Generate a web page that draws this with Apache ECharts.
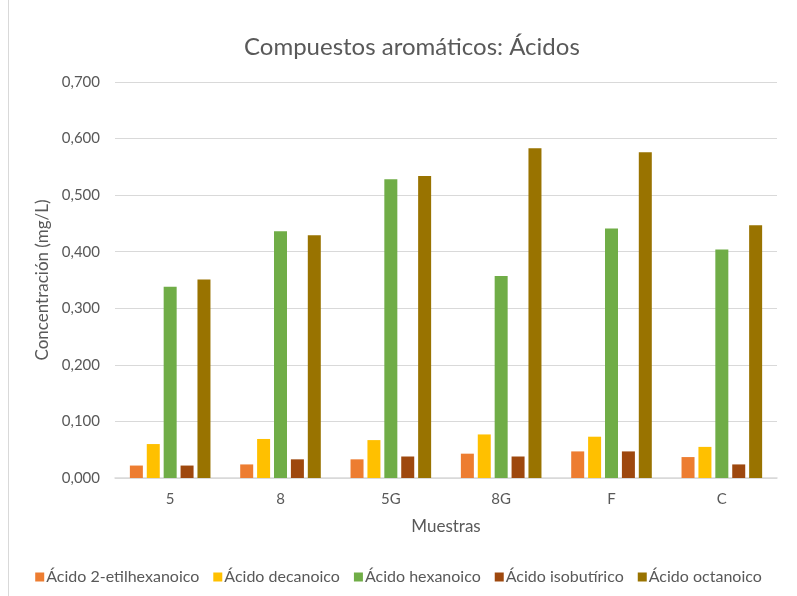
<!DOCTYPE html>
<html>
<head>
	<meta charset="utf-8">
	<title>Compuestos aromáticos: Ácidos</title>
	<script src="https://cdn.jsdelivr.net/npm/echarts@6/dist/echarts.min.js"></script>
	<style type="text/css">
		html, body { height: 100%; margin: 0; background: #fff; }
	</style>
</head>
<body>
	<div id="main" style="width: 797px;height:596px;"></div>
	<script type="text/javascript">
	// muestras
	var muestras = ['5', '8', '5G', '8G', 'F', 'C'];
	var nombres = ['Ácido 2-etilhexanoico', 'Ácido decanoico', 'Ácido hexanoico', 'Ácido isobutírico', 'Ácido octanoico'];
	var colores = ['#ED7D31', '#FFC000', '#70AD47', '#9E480E', '#997300'];

	// concentraciones (mg/L)
	var etilhexanoico = [0.022, 0.024, 0.033, 0.043, 0.047, 0.037];
	var decanoico     = [0.060, 0.069, 0.067, 0.077, 0.073, 0.055];
	var hexanoico     = [0.338, 0.436, 0.528, 0.357, 0.441, 0.404];
	var isobutirico   = [0.022, 0.033, 0.038, 0.038, 0.047, 0.024];
	var octanoico     = [0.351, 0.429, 0.534, 0.583, 0.576, 0.447];
	var datos = [etilhexanoico, decanoico, hexanoico, isobutirico, octanoico];

	var fuente = 'Lato, "Open Sans", sans-serif';
	var gris = '#595959';

	var series = [];
	for (var i = 0; i < nombres.length; i++) {
		series.push({
			name: nombres[i],
			type: 'bar',
			data: datos[i],
			barWidth: 13,
			barGap: '30%',
			itemStyle: { color: colores[i] }
		});
	}

	var myChart = echarts.init(document.getElementById('main'));
	var option = {
		animation: false,
		color: colores,
		title: {
			text: 'Compuestos aromáticos: Ácidos',
			left: 239,
			top: 30,
			textStyle: { fontFamily: fuente, fontSize: 24, fontWeight: 'normal', color: gris }
		},
		graphic: [{
			type: 'rect',
			shape: { x: 8.5, y: -2, width: 800, height: 610 },
			style: { fill: 'none', stroke: '#d9d9d9', lineWidth: 1 }
		}],
		grid: { left: 115, right: 20, top: 82, bottom: 118 },
		legend: {
			bottom: 6,
			left: 'center',
			itemWidth: 9,
			itemHeight: 9,
			itemGap: 14,
			icon: 'rect',
			textStyle: { fontFamily: fuente, fontSize: 16, color: gris, padding: [0, 0, 0, -3] },
			data: nombres
		},
		xAxis: {
			type: 'category',
			data: muestras,
			name: 'Muestras',
			nameLocation: 'middle',
			nameGap: 40,
			nameTextStyle: { fontFamily: fuente, fontSize: 17, color: gris },
			axisTick: { show: false },
			axisLine: { lineStyle: { color: '#d9d9d9', width: 1.5 } },
			axisLabel: { fontFamily: fuente, fontSize: 15, color: gris, margin: 14 }
		},
		yAxis: {
			type: 'value',
			min: 0,
			max: 0.7,
			interval: 0.1,
			name: 'Concentración (mg/L)',
			nameLocation: 'middle',
			nameGap: 61,
			nameTextStyle: { fontFamily: fuente, fontSize: 17, color: gris },
			axisLine: { show: false },
			axisTick: { show: false },
			axisLabel: {
				fontFamily: fuente, fontSize: 15, color: gris, margin: 15,
				formatter: function (v) { return v.toFixed(3).replace('.', ','); }
			},
			splitLine: { lineStyle: { color: '#d9d9d9', width: 1 } }
		},
		series: series
	};
	myChart.setOption(option);
	</script>
</body>
</html>
